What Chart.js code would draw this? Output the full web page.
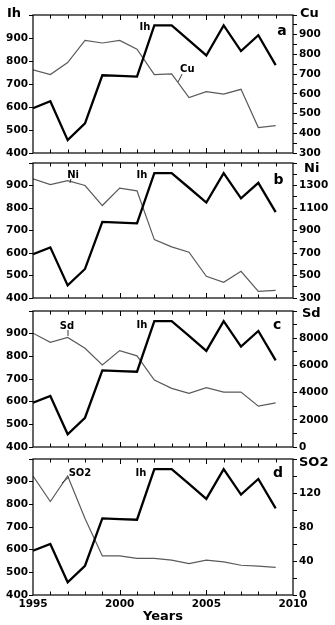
<!DOCTYPE html>
<html>
<head>
<meta charset="utf-8">
<script src="https://cdn.jsdelivr.net/npm/chart.js@4.4.0/dist/chart.umd.min.js"></script>
<style>
  html, body { margin: 0; padding: 0; background: #fff; width: 335px; height: 625px; overflow: hidden; }
  canvas { position: absolute; left: 0; }
</style>
</head>
<body>
<canvas id="pa" style="top:0px"></canvas>
<canvas id="pb" style="top:158px"></canvas>
<canvas id="pc" style="top:305px"></canvas>
<canvas id="pd" style="top:453px"></canvas>
<script>
// ---------- data ----------
const years = [1995, 1996, 1997, 1998, 1999, 2000, 2001, 2002, 2003, 2004, 2005, 2006, 2007, 2008, 2009];
const ihValues = [595, 625, 456, 529, 738, 735, 732, 955, 955, 890, 824, 955, 843, 912, 782];
const cuValues = [722, 698, 759, 871, 858, 871, 827, 698, 701, 581, 611, 599, 623, 429, 439];
const niValues = [1359, 1308, 1343, 1300, 1122, 1276, 1253, 819, 754, 707, 493, 439, 537, 359, 368];
const sdValues = [8370, 7700, 8050, 7260, 6030, 7090, 6700, 4920, 4310, 3940, 4360, 4040, 4040, 3000, 3250];
const so2Values = [140, 110, 140, 90, 46, 46, 43, 43, 41, 37, 41, 39, 35, 34, 32.5];

const xTickLabels = [1995, 2000, 2005, 2010];
const ihTickLabels = [400, 500, 600, 700, 800, 900];
const cuTickLabels = [300, 400, 500, 600, 700, 800, 900];
const niTickLabels = [300, 500, 700, 900, 1100, 1300];
const sdTickLabels = [0, 2000, 4000, 6000, 8000];
const so2TickLabels = [0, 40, 80, 120];

const FONT = 'DejaVu Sans';
Chart.defaults.font.family = FONT;
Chart.defaults.font.weight = 'bold';
Chart.defaults.font.size = 10.5;
Chart.defaults.color = '#000';

function pts(vals) { return years.map((yr, i) => ({ x: yr, y: vals[i] })); }

const framePlugin = {
  id: 'frame',
  afterDatasetsDraw(chart, args, opts) {
    const { ctx, chartArea: a, scales } = chart;
    const x = scales.x;
    ctx.save();
    ctx.strokeStyle = '#000';
    ctx.lineWidth = 1.2;
    ctx.strokeRect(a.left, a.top, a.right - a.left, a.bottom - a.top);
    ctx.lineWidth = 1;
    for (let yr = 1996; yr <= 2009; yr++) {
      const px = Math.round(x.getPixelForValue(yr)) + 0.5;
      const len = (yr % 5 === 0) ? 5 : 3.5;
      ctx.beginPath();
      ctx.moveTo(px, a.top); ctx.lineTo(px, a.top + len);
      ctx.moveTo(px, a.bottom); ctx.lineTo(px, a.bottom - len);
      ctx.stroke();
    }
    // annotations
    const yl = scales.yl;
    ctx.fillStyle = '#000';
    ctx.textBaseline = 'middle';
    (opts.texts || []).forEach(t => {
      ctx.font = 'bold ' + t.size + 'px "' + FONT + '"';
      ctx.textAlign = t.align || 'center';
      ctx.fillText(t.text, x.getPixelForValue(t.x), yl.getPixelForValue(t.y));
    });
    ctx.strokeStyle = '#333';
    ctx.lineWidth = 1;
    (opts.leaders || []).forEach(l => {
      ctx.beginPath();
      ctx.moveTo(x.getPixelForValue(l[0]), yl.getPixelForValue(l[1]));
      ctx.lineTo(x.getPixelForValue(l[2]), yl.getPixelForValue(l[3]));
      ctx.stroke();
    });
    // axis titles above the axes
    (opts.titles || []).forEach(t => {
      ctx.font = 'bold ' + t.size + 'px "' + FONT + '"';
      ctx.textAlign = t.align;
      const px = t.side === 'left' ? a.left + t.dx : a.right + t.dx;
      ctx.fillText(t.text, px, a.top + t.dy);
    });
    ctx.restore();
  }
};

function makePanel(id, h, padTop, padBottom, other, otherMin, otherMax, otherStep, otherLabels, showX, annot) {
  const canvas = document.getElementById(id);
  canvas.width = 335; canvas.height = h;
  canvas.style.width = '335px'; canvas.style.height = h + 'px';
  return new Chart(canvas, {
    type: 'line',
    data: {
      datasets: [
        { data: pts(ihValues), yAxisID: 'yl', borderColor: '#000', borderWidth: 2.3, pointRadius: 0, tension: 0, order: 1 },
        { data: pts(other), yAxisID: 'yr', borderColor: '#5a5a5a', borderWidth: 1.2, pointRadius: 0, tension: 0, order: 2 }
      ]
    },
    options: {
      responsive: false,
      animation: false,
      events: [],
      layout: { padding: { top: padTop, bottom: padBottom, left: 0, right: 0 } },
      plugins: { legend: { display: false }, tooltip: { enabled: false }, frame: annot },
      scales: {
        x: {
          type: 'linear', min: 1995, max: 2010, display: showX,
          ticks: { stepSize: 5, padding: 3, font: { size: 10.5, weight: 'bold' },
                   callback: v => xTickLabels.includes(v) ? String(v) : '' },
          grid: { drawOnChartArea: false, drawTicks: false },
          border: { display: false },
          title: { display: showX, text: 'Years', font: { size: 13, weight: 'bold' }, padding: { top: 0, bottom: 1 } },
          afterFit: s => { if (showX) { s.height = 30; } else { s.height = 0; s.width = 0; } }
        },
        yl: {
          position: 'left', min: 400, max: 1000,
          ticks: { stepSize: 100, autoSkip: false, padding: 1, callback: v => ihTickLabels.includes(v) ? String(v) : '' },
          grid: { drawOnChartArea: false, drawTicks: true, tickLength: 4, color: '#000' },
          border: { display: false },
          afterFit: s => { s.width = 33; s.paddingTop = 0; s.paddingBottom = 0; }
        },
        yr: {
          position: 'right', min: otherMin, max: otherMax,
          ticks: { stepSize: otherStep, autoSkip: false, padding: 2, callback: v => otherLabels.includes(v) ? String(v) : '' },
          grid: { drawOnChartArea: false, drawTicks: true, tickLength: 4, color: '#000' },
          border: { display: false },
          afterFit: s => { s.width = 42; s.paddingTop = 0; s.paddingBottom = 0; }
        }
      }
    },
    plugins: [framePlugin]
  });
}

makePanel('pa', 158, 15, 5, cuValues, 300, 1000, 50, cuTickLabels, false, {
  texts: [
    { text: 'Ih', x: 2001.46, y: 946, size: 10 },
    { text: 'Cu', x: 2003.9, y: 765, size: 10 },
    { text: 'a', x: 2009.37, y: 930, size: 14 }
  ],
  leaders: [[2003.6, 743, 2003.37, 709]],
  titles: [
    { text: 'Ih', side: 'left', dx: -19, dy: -1, align: 'center', size: 13 },
    { text: 'Cu', side: 'right', dx: 7, dy: -1, align: 'left', size: 13 }
  ]
});
makePanel('pb', 147, 5, 7, niValues, 300, 1500, 100, niTickLabels, false, {
  texts: [
    { text: 'Ni', x: 1997.31, y: 947, size: 10 },
    { text: 'Ih', x: 2001.29, y: 947, size: 10 },
    { text: 'b', x: 2009.16, y: 924, size: 14 }
  ],
  leaders: [[1997.19, 929, 1997.13, 911]],
  titles: [
    { text: 'Ni', side: 'right', dx: 11, dy: 5.5, align: 'left', size: 13 }
  ]
});
makePanel('pc', 148, 6, 6, sdValues, 0, 10000, 1000, sdTickLabels, false, {
  texts: [
    { text: 'Sd', x: 1996.96, y: 934, size: 10 },
    { text: 'Ih', x: 2001.29, y: 936, size: 10 },
    { text: 'c', x: 2009.08, y: 936, size: 14 }
  ],
  leaders: [[1997.02, 916, 1997.02, 890]],
  titles: [
    { text: 'Sd', side: 'right', dx: 9, dy: 3, align: 'left', size: 13 }
  ]
});
makePanel('pd', 172, 6, 0, so2Values, 0, 160, 20, so2TickLabels, true, {
  texts: [
    { text: 'SO2', x: 1997.71, y: 938, size: 10 },
    { text: 'Ih', x: 2001.23, y: 936, size: 10 },
    { text: 'd', x: 2009.13, y: 938, size: 14 }
  ],
  leaders: [[1997.08, 921, 1996.67, 894]],
  titles: [
    { text: 'SO2', side: 'right', dx: 6, dy: 3.5, align: 'left', size: 13 }
  ]
});
</script>
</body>
</html>
